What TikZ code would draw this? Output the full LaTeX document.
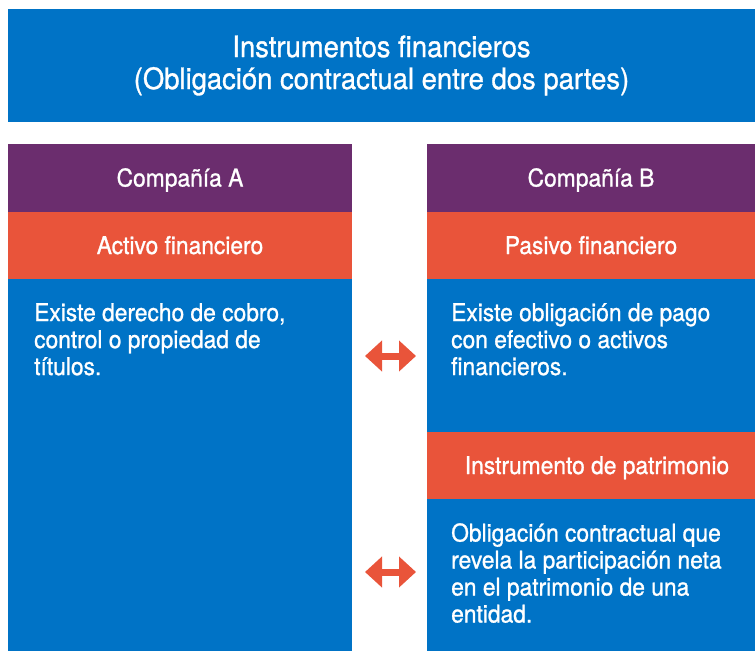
\documentclass[tikz,border=0pt]{standalone}
\usepackage{fontspec}
\setmainfont{TeX Gyre Heros}[FakeStretch=0.93,FakeBold=1]
\usetikzlibrary{arrows.meta}
\definecolor{ifblue}{HTML}{0073C6}
\definecolor{ifpurple}{HTML}{6B2D6E}
\definecolor{iforange}{HTML}{E9543A}
\tikzset{
    panel/.style={rectangle, anchor=north west, inner sep=0pt, outer sep=0pt, text=white},
    headbox/.style={panel, font=\fontsize{24.5}{27}\selectfont, text height=17pt, text depth=0pt},
    bodytext/.style={anchor=north west, inner sep=0pt, text=white, align=left,
        font=\fontsize{24.5}{27}\selectfont, execute at begin node=\strut},
    twoway/.style={{Triangle[length=17pt,width=30pt]}-{Triangle[length=17pt,width=30pt]},
        line width=7pt, draw=iforange}
}
\begin{document}
\begin{tikzpicture}[x=1pt,y=-1pt]
    \useasboundingbox (0,0) rectangle (755,651);
    % title begin
    \node[panel, fill=ifblue, minimum width=747pt, minimum height=113pt, align=center,
        font=\fontsize{29.5}{32}\selectfont] (title) at (8,9)
        {Instrumentos financieros\\(Obligación contractual entre dos partes)};
    % title end
    % company A begin
    \node[headbox, fill=ifpurple, minimum width=344pt, minimum height=68pt] (compA) at (8,144) {Compañía A};
    \node[headbox, fill=iforange, minimum width=344pt, minimum height=67pt] (actA) at (8,212) {Activo financiero};
    \node[panel, fill=ifblue, minimum width=344pt, minimum height=372pt] (bodyA) at (8,279) {};
    \node[bodytext] (txtA) at (34,303)
        {Existe derecho de cobro,\\control o propiedad de\\títulos.};
    % company A end
    % company B begin
    \node[headbox, fill=ifpurple, minimum width=328pt, minimum height=68pt] (compB) at (427,144) {Compañía B};
    \node[headbox, fill=iforange, minimum width=328pt, minimum height=67pt] (pasB) at (427,212) {Pasivo financiero};
    \node[panel, fill=ifblue, minimum width=328pt, minimum height=153pt] (bodyB) at (427,279) {};
    \node[bodytext] (txtB) at (451,303)
        {Existe obligación de pago\\con efectivo o activos\\financieros.};
    \node[headbox, fill=iforange, minimum width=328pt, minimum height=67pt] (patB) at (427,432)
        {\hspace*{12pt}Instrumento de patrimonio};
    \node[panel, fill=ifblue, minimum width=328pt, minimum height=152pt] (bodyC) at (427,499) {};
    \node[bodytext] (txtC) at (451,523)
        {Obligación contractual que\\revela la participación neta\\en el patrimonio de una\\entidad.};
    % company B end
    % arrows
    \coordinate (arrA-l) at (365,356);
    \coordinate (arrA-r) at (416,356);
    \coordinate (arrB-l) at (365,572);
    \coordinate (arrB-r) at (416,572);
    \draw[twoway] (arrA-l) -- (arrA-r);
    \draw[twoway] (arrB-l) -- (arrB-r);
\end{tikzpicture}
\end{document}
